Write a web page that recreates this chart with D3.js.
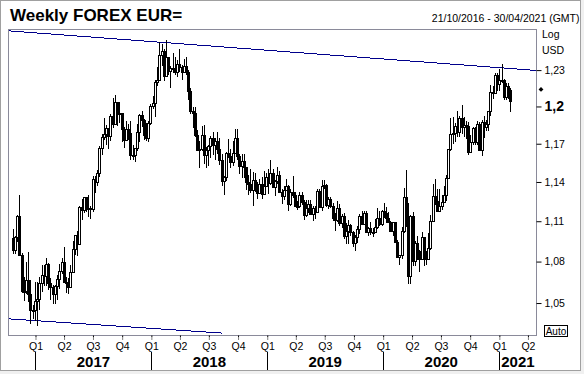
<!DOCTYPE html>
<meta charset="utf-8">
<style>
body { margin: 0; background: #f0f0f0; }
svg { display: block; font-family: "Liberation Sans", Arial, sans-serif; }
.narrow { font-family: "Liberation Sans Narrow", "Arial Narrow", "Liberation Sans", Arial, sans-serif; }
.axis path { display: none; }
.candles, .trends { shape-rendering: crispEdges; }
</style>
<svg width="584" height="374"></svg>
<script src="https://d3js.org/d3.v7.min.js"></script>
<script>

// weekly EUR= candles, one per Friday starting at firstWeek
var firstWeek = "2016-10-21";
var firstOpen = 1.0972;

var closes = [
  // 2016
  1.0882,1.0984,1.1140,1.0851,1.0588,1.0588,1.0664,1.0562,1.0450,1.0454,1.0517,
  // 2017
  1.0530,1.0645,1.0705,1.0697,1.0783,1.0641,1.0615,1.0562,1.0620,1.0671,1.0734,1.0799,1.0652,
  1.0643,1.0614,1.0727,1.0895,1.0998,1.0932,1.1208,1.1184,1.1281,1.1196,1.1197,1.1194,1.1426,
  1.1400,1.1470,1.1665,1.1752,1.1774,1.1822,1.1761,1.1922,1.1860,1.2036,1.1942,1.1948,1.1814,
  1.1733,1.1821,1.1782,1.1607,1.1609,1.1665,1.1794,1.1933,1.1893,1.1772,1.1748,1.1862,1.2005,
  // 2018
  1.2029,1.2200,1.2221,1.2427,1.2459,1.2252,1.2407,1.2294,1.2317,1.2307,1.2287,1.2353,1.2323,
  1.2282,1.2331,1.2288,1.2129,1.1960,1.1943,1.1767,1.1652,1.1658,1.1768,1.1610,1.1654,1.1683,
  1.1747,1.1686,1.1718,1.1656,1.1568,1.1410,1.1438,1.1624,1.1604,1.1552,1.1624,1.1748,1.1604,
  1.1524,1.1560,1.1514,1.1403,1.1387,1.1335,1.1416,1.1337,1.1316,1.1387,1.1306,1.1371,1.1439,
  // 2019
  1.1395,1.1467,1.1364,1.1405,1.1456,1.1325,1.1295,1.1335,1.1365,1.1234,1.1326,1.1299,1.1217,
  1.1218,1.1297,1.1245,1.1150,1.1200,1.1234,1.1157,1.1204,1.1169,1.1334,1.1209,1.1369,1.1373,
  1.1226,1.1271,1.1219,1.1128,1.1108,1.1202,1.1090,1.1143,1.0990,1.1028,1.1073,1.1017,1.0940,
  1.0979,1.1040,1.1143,1.1080,1.1166,1.1018,1.1050,1.1021,1.1017,1.1060,1.1121,1.1079,1.1177,
  // 2020
  1.1160,1.1121,1.1091,1.1026,1.1093,1.0944,1.0831,1.0848,1.1026,1.1284,1.1107,1.0692,1.1142,
  1.0805,1.0936,1.0875,1.0822,1.0980,1.0839,1.0819,1.0902,1.1101,1.1290,1.1256,1.1178,1.1219,
  1.1247,1.1300,1.1427,1.1655,1.1778,1.1786,1.1843,1.1795,1.1903,1.1837,1.1846,1.1838,1.1631,
  1.1716,1.1826,1.1717,1.1860,1.1648,1.1874,1.1833,1.1856,1.1963,1.2121,1.2112,1.2256,1.2187,
  // 2021
  1.2216,1.2220,1.2077,1.2169,1.2136,1.2045
];

var highs = [
  // 2016
  1.1039,1.0990,1.1145,1.1300,1.0865,1.0689,1.0796,1.0874,1.0669,1.0488,1.0653,
  // 2017
  1.0653,1.0685,1.0775,1.0775,1.0829,1.0790,1.0680,1.0630,1.0630,1.0700,1.0783,1.0827,1.0906,
  1.0690,1.0680,1.0778,1.0950,1.0999,1.1023,1.1213,1.1268,1.1284,1.1285,1.1296,1.1212,1.1445,
  1.1446,1.1490,1.1682,1.1777,1.1910,1.1846,1.1827,1.1940,1.2070,1.2092,1.2033,1.2034,1.1950,
  1.1834,1.1880,1.1860,1.1880,1.1688,1.1667,1.1861,1.1939,1.1961,1.1896,1.1863,1.1880,1.2022,
  // 2018
  1.2089,1.2219,1.2323,1.2537,1.2522,1.2476,1.2555,1.2414,1.2338,1.2446,1.2413,1.2388,1.2477,
  1.2345,1.2396,1.2414,1.2300,1.2152,1.1997,1.1996,1.1810,1.1725,1.1840,1.1852,1.1676,1.1691,
  1.1763,1.1791,1.1745,1.1790,1.1745,1.1620,1.1447,1.1638,1.1734,1.1658,1.1720,1.1815,1.1815,
  1.1616,1.1620,1.1622,1.1519,1.1456,1.1500,1.1474,1.1472,1.1402,1.1420,1.1442,1.1486,1.1473,
  // 2019
  1.1497,1.1570,1.1499,1.1415,1.1514,1.1488,1.1343,1.1372,1.1420,1.1375,1.1345,1.1448,1.1325,
  1.1255,1.1324,1.1324,1.1265,1.1265,1.1264,1.1265,1.1216,1.1214,1.1348,1.1348,1.1412,1.1412,
  1.1384,1.1286,1.1282,1.1240,1.1165,1.1250,1.1230,1.1152,1.1165,1.1085,1.1109,1.1076,1.1026,
  1.1000,1.1063,1.1156,1.1180,1.1175,1.1176,1.1058,1.1097,1.1048,1.1117,1.1200,1.1175,1.1188,
  // 2020
  1.1239,1.1206,1.1173,1.1099,1.1096,1.1095,1.0963,1.0851,1.1053,1.1355,1.1495,1.1236,1.1147,
  1.1168,1.0952,1.0990,1.0887,1.1019,1.0978,1.0876,1.1008,1.1147,1.1384,1.1422,1.1349,1.1349,
  1.1303,1.1371,1.1452,1.1660,1.1909,1.1916,1.1866,1.1966,1.1923,1.2011,1.1917,1.1882,1.1871,
  1.1772,1.1831,1.1831,1.1881,1.1870,1.1891,1.1920,1.1893,1.1964,1.2177,1.2167,1.2273,1.2272,
  // 2021
  1.2310,1.2349,1.2223,1.2190,1.2190,1.2150
];

var lows = [
  // 2016
  1.0859,1.0852,1.0943,1.0845,1.0569,1.0518,1.0565,1.0505,1.0352,1.0390,1.0370,
  // 2017
  1.0340,1.0454,1.0578,1.0620,1.0619,1.0590,1.0521,1.0494,1.0495,1.0525,1.0599,1.0712,1.0650,
  1.0570,1.0568,1.0634,1.0820,1.0850,1.0839,1.0920,1.1109,1.1162,1.1170,1.1132,1.1119,1.1171,
  1.1312,1.1372,1.1440,1.1612,1.1728,1.1689,1.1662,1.1721,1.1823,1.1866,1.1838,1.1862,1.1717,
  1.1669,1.1730,1.1730,1.1574,1.1572,1.1554,1.1639,1.1714,1.1831,1.1729,1.1719,1.1716,1.1849,
  // 2018
  1.1979,1.1916,1.2165,1.2215,1.2335,1.2206,1.2249,1.2260,1.2154,1.2274,1.2258,1.2240,1.2282,
  1.2214,1.2280,1.2262,1.2055,1.1938,1.1822,1.1750,1.1646,1.1510,1.1646,1.1541,1.1508,1.1527,
  1.1591,1.1613,1.1575,1.1617,1.1530,1.1366,1.1301,1.1405,1.1584,1.1510,1.1527,1.1615,1.1575,
  1.1462,1.1432,1.1432,1.1336,1.1301,1.1317,1.1216,1.1322,1.1267,1.1310,1.1269,1.1306,1.1360,
  // 2019
  1.1309,1.1380,1.1353,1.1290,1.1387,1.1323,1.1234,1.1264,1.1330,1.1176,1.1216,1.1275,1.1210,
  1.1183,1.1200,1.1226,1.1110,1.1135,1.1160,1.1156,1.1105,1.1116,1.1160,1.1202,1.1181,1.1348,
  1.1207,1.1193,1.1201,1.1101,1.1027,1.1093,1.1066,1.1052,1.0965,1.0926,1.0927,1.0991,1.0905,
  1.0879,1.0940,1.1002,1.1073,1.1073,1.1014,1.0989,1.0997,1.0981,1.1016,1.1041,1.1066,1.1065,
  // 2020
  1.1126,1.1086,1.1086,1.1019,1.0992,1.0941,1.0827,1.0778,1.0822,1.1010,1.1055,1.0636,1.0637,
  1.0768,1.0769,1.0813,1.0727,1.0812,1.0766,1.0775,1.0815,1.0887,1.1095,1.1221,1.1168,1.1183,
  1.1185,1.1255,1.1255,1.1420,1.1640,1.1696,1.1710,1.1753,1.1753,1.1780,1.1753,1.1737,1.1612,
  1.1627,1.1686,1.1689,1.1689,1.1640,1.1602,1.1746,1.1800,1.1801,1.1923,1.2059,1.2112,1.2129,
  // 2021
  1.2129,1.2194,1.2055,1.2053,1.2058,1.1952
];

var yTicks = [1.05, 1.08, 1.11, 1.14, 1.17, 1.2, 1.23];
var xDomain = ["2016-10-08", "2021-04-28"];
var yDomain = [1.0271, 1.2644];

// trend lines as [date, price] end points
var upperTrend = [["2016-10-10", 1.2632], ["2021-04-28", 1.2297]];
var lowerTrend = [["2016-10-08", 1.0388], ["2018-08-12", 1.0288]];
var lastPrice = 1.214;

var title = "Weekly FOREX EUR=";
var dateRange = "21/10/2016 - 30/04/2021 (GMT)";

var svg = d3.select("svg"),
    width = +svg.attr("width"),
    height = +svg.attr("height");

var parseDate = d3.timeParse("%Y-%m-%d");
var plot = {left: 8.5, right: 536.5, top: 29.5, bottom: 335.5};

var x = d3.scaleTime()
    .domain(xDomain.map(parseDate))
    .range([plot.left, plot.right]);

var y = d3.scaleLog()
    .domain(yDomain)
    .range([plot.bottom, plot.top]);

// weekly fx open is the previous week's close
var start = parseDate(firstWeek);
var candles = closes.map(function(c, i) {
  return {
    date: d3.timeDay.offset(start, 7 * i),
    open: i ? closes[i - 1] : firstOpen,
    close: c,
    high: highs[i],
    low: lows[i]
  };
});

// page frame
svg.append("rect")
    .attr("x", 0.5).attr("y", 0.5)
    .attr("width", 580).attr("height", 370)
    .attr("fill", "#fff")
    .attr("stroke", "#a0a0a0");

svg.append("text")
    .attr("x", 10).attr("y", 20.5)
    .style("font-size", "17px")
    .style("font-weight", "bold")
    .text(title);

svg.append("text")
    .attr("x", 579.5).attr("y", 21.5)
    .attr("text-anchor", "end")
    .style("font-size", "10.5px")
    .text(dateRange);

svg.append("text").attr("x", 542).attr("y", 38).style("font-size", "10.5px").text("Log");
svg.append("text").attr("x", 542).attr("y", 54).style("font-size", "10.5px").text("USD");

// plot frame
svg.append("rect")
    .attr("x", plot.left).attr("y", plot.top)
    .attr("width", plot.right - plot.left)
    .attr("height", plot.bottom - plot.top)
    .attr("fill", "none")
    .attr("stroke", "#8a8a9a");

// trend lines
var trendLine = d3.line()
    .x(function(d) { return x(parseDate(d[0])); })
    .y(function(d) { return y(d[1]); });

svg.append("g").attr("class", "trends")
  .selectAll("path")
  .data([upperTrend, lowerTrend])
  .enter().append("path")
    .attr("d", trendLine)
    .attr("fill", "none")
    .attr("stroke", "#00008b")
    .attr("stroke-width", 1);

// candles
var candle = svg.append("g")
    .attr("class", "candles")
  .selectAll("g")
  .data(candles)
  .enter().append("g");

candle.append("line")
    .attr("x1", function(d) { return Math.round(x(d.date)) + 0.5; })
    .attr("x2", function(d) { return Math.round(x(d.date)) + 0.5; })
    .attr("y1", function(d) { return Math.round(y(Math.max(d.high, d.open, d.close))); })
    .attr("y2", function(d) { return Math.round(y(Math.min(d.low, d.open, d.close))); })
    .attr("stroke", "#000");

candle.append("rect")
    .attr("x", function(d) { return Math.round(x(d.date)) - 0.5; })
    .attr("width", 2)
    .attr("y", function(d) { return Math.round(y(Math.max(d.open, d.close))) + 0.5; })
    .attr("height", function(d) {
      return Math.max(1, Math.round(y(Math.min(d.open, d.close))) - Math.round(y(Math.max(d.open, d.close))));
    })
    .attr("fill", function(d) { return d.close >= d.open ? "#fff" : "#000"; })
    .attr("stroke", "#000");

// right price axis
var yAxis = svg.append("g")
    .attr("class", "axis")
    .attr("transform", "translate(" + plot.right + ",0)")
    .call(d3.axisRight(y)
      .tickValues(yTicks)
      .tickSize(5)
      .tickPadding(3)
      .tickFormat(function(d) { return String(d).replace(".", ","); }));

yAxis.selectAll("text")
    .attr("fill", "#000")
    .style("font-family", "'Liberation Sans', Arial, sans-serif")
    .style("font-size", function(d) { return d === 1.2 ? "14px" : "10.5px"; })
    .style("font-weight", function(d) { return d === 1.2 ? "bold" : "normal"; });

svg.append("path")
    .attr("d", d3.symbol(d3.symbolSquare, 12))
    .attr("transform", "translate(541," + y(lastPrice) + ") rotate(45)")
    .attr("fill", "#000");

// auto box
svg.append("rect")
    .attr("x", 544.5).attr("y", 325.5)
    .attr("width", 23).attr("height", 11)
    .attr("fill", "#fff").attr("stroke", "#000");
svg.append("text")
    .attr("x", 556).attr("y", 334.5)
    .attr("text-anchor", "middle")
    .style("font-size", "10px")
    .text("Auto");

// quarter axis
var quarters = x.ticks(d3.timeMonth.every(3));

var xAxis = svg.append("g")
    .attr("class", "axis narrow")
    .attr("transform", "translate(0," + plot.bottom + ")")
    .call(d3.axisBottom(x)
      .tickValues(quarters)
      .tickSize(4)
      .tickPadding(3)
      .tickFormat(function(d) { return "Q" + (Math.floor(d.getMonth() / 3) + 1); }));

xAxis.attr("font-family", null);
xAxis.selectAll("line").attr("stroke-dasharray", "2,1");
xAxis.selectAll("text")
    .attr("fill", "#000")
    .style("font-size", "10.5px");

// year separators and labels
var yearStarts = quarters.filter(function(d) { return d.getMonth() === 0; });
var xMax = x.domain()[1];

svg.append("g").selectAll("line")
  .data(yearStarts)
  .enter().append("line")
    .attr("x1", function(d) { return Math.round(x(d)) + 0.5; })
    .attr("x2", function(d) { return Math.round(x(d)) + 0.5; })
    .attr("y1", 352).attr("y2", 370)
    .attr("stroke", "#000");

svg.append("g").attr("class", "narrow").selectAll("text")
  .data(yearStarts)
  .enter().append("text")
    .attr("x", function(d) {
      var end = d3.timeYear.offset(d, 1);
      if (end > xMax) end = xMax;
      return (x(d) + x(end)) / 2;
    })
    .attr("y", 366.5)
    .attr("text-anchor", "middle")
    .style("font-size", "15px")
    .style("font-weight", "bold")
    .text(function(d) { return d.getFullYear(); });

</script>
